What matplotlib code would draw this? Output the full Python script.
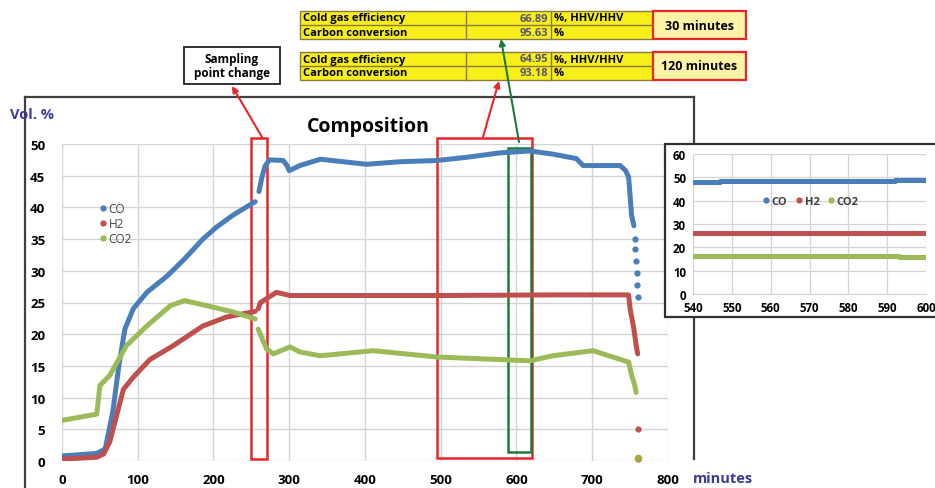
import matplotlib
matplotlib.use("Agg")
import matplotlib.pyplot as plt
from matplotlib.patches import Rectangle, FancyArrowPatch
from matplotlib.lines import Line2D

plt.rcParams['font.family'] = ['Open Sans', 'DejaVu Sans']

# gas composition over run time (vol. %), read as segments
co_x1 = [0, 46, 57, 67, 75, 83, 94, 112, 139, 162, 186, 204, 226, 255]
co_y1 = [0.8, 1.2, 1.9, 7.7, 15.0, 20.8, 24.0, 26.6, 29.2, 31.9, 35.0, 36.9, 38.8, 40.9]
co_x2 = [260, 264, 268, 274, 292, 297, 300, 314, 341, 402, 446, 495, 534, 578, 618,
         648, 679, 688, 737, 744, 748, 750, 752, 755]
co_y2 = [42.5, 44.8, 46.5, 47.5, 47.4, 46.6, 45.8, 46.6, 47.6, 46.8, 47.2, 47.4, 47.9,
         48.6, 48.9, 48.4, 47.7, 46.6, 46.6, 45.8, 44.8, 41.8, 38.7, 37.1]
co_tail_x = [756, 757, 758, 759, 759, 760]
co_tail_y = [35.0, 33.4, 31.6, 29.7, 27.8, 25.8]

h2_x1 = [0, 46, 55, 63, 81, 94, 116, 147, 186, 217, 255]
h2_y1 = [0.3, 0.6, 1.1, 3.0, 11.3, 13.2, 16.0, 18.2, 21.3, 22.7, 23.6]
h2_x2 = [259, 262, 266, 283, 301, 500, 650, 748, 750, 755, 758, 760]
h2_y2 = [24.0, 25.0, 25.3, 26.6, 26.1, 26.1, 26.2, 26.2, 24.0, 20.8, 18.2, 16.9]
h2_tail_x = [760, 761]
h2_tail_y = [5.0, 0.3]

co2_x1 = [0, 46, 50, 63, 85, 112, 143, 162, 191, 226, 255]
co2_y1 = [6.4, 7.4, 11.9, 13.5, 18.2, 21.3, 24.5, 25.3, 24.5, 23.5, 22.4]
co2_x2 = [259, 266, 270, 279, 301, 314, 341, 411, 495, 578, 618, 648, 701, 748, 752, 756, 758]
co2_y2 = [20.8, 18.8, 17.7, 16.9, 18.0, 17.2, 16.6, 17.4, 16.4, 16.0, 15.8, 16.6, 17.4,
          15.6, 13.5, 12.0, 10.8]
co2_tail_x = [760]
co2_tail_y = [0.4]

# zoomed view 540-600 min
zoom_co_x = [540, 547, 547, 569, 569, 592, 592, 600]
zoom_co_y = [48.0, 48.0, 48.3, 48.3, 48.6, 48.6, 48.9, 48.9]
zoom_h2_x = [540, 600]
zoom_h2_y = [26.1, 26.1]
zoom_co2_x = [540, 554, 554, 593, 593, 600]
zoom_co2_y = [16.5, 16.5, 16.2, 16.2, 15.8, 15.8]

# efficiency tables
eff_30 = ["66.89", "95.63"]
eff_120 = ["64.95", "93.18"]
row_labels = ["Cold gas efficiency", "Carbon conversion"]
row_units = ["%, HHV/HHV", "%"]

C_CO, C_H2, C_CO2 = "#4A7EBB", "#C0504D", "#9BBB59"
RED, GREEN, NAVY = "#E8262A", "#1E7A3A", "#3B3B98"

W, H = 935, 489


def fx(x):
    return x / W


def fy(y):
    return 1 - y / H


fig = plt.figure(figsize=(W / 100, H / 100), dpi=100)

# outer chart frame
for xs, ys in [([25, 694], [98, 98]), ([25, 25], [98, 489]), ([694, 694], [98, 460])]:
    fig.add_artist(Line2D([fx(x) for x in xs], [fy(y) for y in ys], color="#404040",
                          lw=1.6, zorder=0.5))

ax = fig.add_axes([fx(62), fy(462), 606 / W, 317 / H])
ax.set_zorder(1)
ax.set_xlim(0, 800)
ax.set_ylim(0, 50)
ax.set_xticks(range(0, 801, 100))
ax.set_yticks(range(0, 51, 5))
ax.grid(True, color="#D4D4D4", lw=1)
ax.set_axisbelow(True)
for s in ax.spines.values():
    s.set_visible(False)
ax.tick_params(length=0, labelsize=9.5)
ax.tick_params(axis="x", pad=9)
ax.tick_params(axis="y", pad=12)
for lab in ax.get_xticklabels() + ax.get_yticklabels():
    lab.set_fontweight("bold")
ax.patch.set_alpha(0)

lw = 3.6
for xs, ys, c in [(co_x1, co_y1, C_CO), (co_x2, co_y2, C_CO),
                  (h2_x1, h2_y1, C_H2), (h2_x2, h2_y2, C_H2),
                  (co2_x1, co2_y1, C_CO2), (co2_x2, co2_y2, C_CO2)]:
    ax.plot(xs, ys, color=c, lw=lw, solid_capstyle="round", solid_joinstyle="round")
ax.plot(co_tail_x, co_tail_y, "o", color=C_CO, ms=3.5, clip_on=False)
ax.plot(h2_tail_x, h2_tail_y, "o", color=C_H2, ms=3.5, clip_on=False)
ax.plot(co2_tail_x, co2_tail_y, "o", color="#A8A840", ms=4.5, clip_on=False)

handles = [Line2D([], [], ls="", marker="o", ms=3.5, color=c) for c in (C_CO, C_H2, C_CO2)]
ax.legend(handles, ["CO", "H2", "CO2"], loc="upper left", bbox_to_anchor=(0.04, 0.85),
          frameon=False, fontsize=8.5, handletextpad=0.0, labelspacing=0.15,
          handlelength=1.0, labelcolor="#404040")

# highlighted time windows
ax.add_patch(Rectangle((249.5, 0.3), 21, 50.7, fill=False, ec=RED, lw=1.8, clip_on=False))
ax.add_patch(Rectangle((495, 0.5), 125, 50.5, fill=False, ec=RED, lw=1.8, clip_on=False))
ax.add_patch(Rectangle((589, 1.4), 30, 47.9, fill=False, ec=GREEN, lw=1.8, clip_on=False))

fig.text(fx(368), fy(127), "Composition", ha="center", va="center",
         fontsize=14, fontweight="bold")
fig.text(fx(10), fy(115), "Vol. %", ha="left", va="center", fontsize=10.5,
         fontweight="bold", color=NAVY)
fig.text(fx(693), fy(479), "minutes", ha="left", va="center", fontsize=10.5,
         fontweight="bold", color=NAVY)

# inset panel
fig.add_artist(Rectangle((fx(665), fy(318)), (950 - 665) / W, (318 - 145) / H,
                         transform=fig.transFigure, fc="white", ec="#303030", lw=1.6,
                         zorder=2))
ax2 = fig.add_axes([fx(693), fy(295), 233 / W, 140 / H])
ax2.set_zorder(3)
ax2.set_xlim(540, 600)
ax2.set_ylim(0, 60)
ax2.set_xticks(range(540, 601, 10))
ax2.set_yticks(range(0, 61, 10))
ax2.grid(True, color="#D4D4D4", lw=0.9)
ax2.set_axisbelow(True)
for s in ax2.spines.values():
    s.set_visible(False)
ax2.spines["bottom"].set_visible(True)
ax2.spines["bottom"].set_color("#D4D4D4")
ax2.tick_params(length=0, labelsize=8.3, pad=5)
for lab in ax2.get_xticklabels() + ax2.get_yticklabels():
    lab.set_fontweight("bold")
ax2.plot(zoom_co_x, zoom_co_y, color=C_CO, lw=3.6)
ax2.plot(zoom_h2_x, zoom_h2_y, color=C_H2, lw=3.6)
ax2.plot(zoom_co2_x, zoom_co2_y, color=C_CO2, lw=3.6)
ax2.legend(handles, ["CO", "H2", "CO2"], loc="center", bbox_to_anchor=(0.5, 0.66),
           ncol=3, frameon=False, handletextpad=0.05, columnspacing=0.5,
           handlelength=1.0, labelcolor="#404040", prop={"weight": "bold", "size": 8})


def table(top, values, tag):
    x0, x1, x2, x3, x4 = 300, 466, 551, 653, 746
    rh = 14
    fig.add_artist(Rectangle((fx(x0), fy(top + 2 * rh)), (x3 - x0) / W, 2 * rh / H,
                             transform=fig.transFigure, fc="#F7EE1A", ec="#8A7A40",
                             lw=1.0, zorder=4))
    for xs, ys in [([x0, x3], [top + rh, top + rh]), ([x1, x1], [top, top + 2 * rh]),
                   ([x2, x2], [top, top + 2 * rh])]:
        fig.add_artist(Line2D([fx(x) for x in xs], [fy(y) for y in ys], color="#8A7A40",
                              lw=1.0, zorder=5))
    for i in range(2):
        yc = top + rh * i + rh / 2
        fig.text(fx(x0 + 3), fy(yc), row_labels[i], ha="left", va="center",
                 fontsize=8, fontweight="bold", zorder=6)
        fig.text(fx(x2 - 3), fy(yc), values[i], ha="right", va="center",
                 fontsize=8, fontweight="bold", color="#55557A", zorder=6)
        fig.text(fx(x2 + 3), fy(yc), row_units[i], ha="left", va="center",
                 fontsize=8, fontweight="bold", zorder=6)
    fig.add_artist(Rectangle((fx(x3), fy(top + 2 * rh)), (x4 - x3) / W, 2 * rh / H,
                             transform=fig.transFigure, fc="#FFF3A6", ec=RED,
                             lw=1.6, zorder=4))
    fig.text(fx((x3 + x4) / 2), fy(top + rh), tag, ha="center", va="center",
             fontsize=9, fontweight="bold", zorder=6)


table(12, eff_30, "30 minutes")
table(53, eff_120, "120 minutes")

fig.add_artist(Rectangle((fx(184), fy(85)), 96 / W, 37 / H, transform=fig.transFigure,
                         fc="white", ec="#303030", lw=1.4, zorder=4))
fig.text(fx(232), fy(66.5), "Sampling\npoint change", ha="center", va="center",
         fontsize=8.5, fontweight="bold", linespacing=1.1, zorder=6)

for (xa, ya), (xb, yb), c in [((262, 138), (232, 87), RED),
                              ((483, 138), (499, 82), RED),
                              ((519, 143), (501, 40), GREEN)]:
    fig.add_artist(FancyArrowPatch((fx(xa), fy(ya)), (fx(xb), fy(yb)),
                                   transform=fig.transFigure, arrowstyle="-|>",
                                   mutation_scale=9, color=c, lw=1.5,
                                   shrinkA=0, shrinkB=0, zorder=7))

fig.savefig("out.png", dpi=100)
